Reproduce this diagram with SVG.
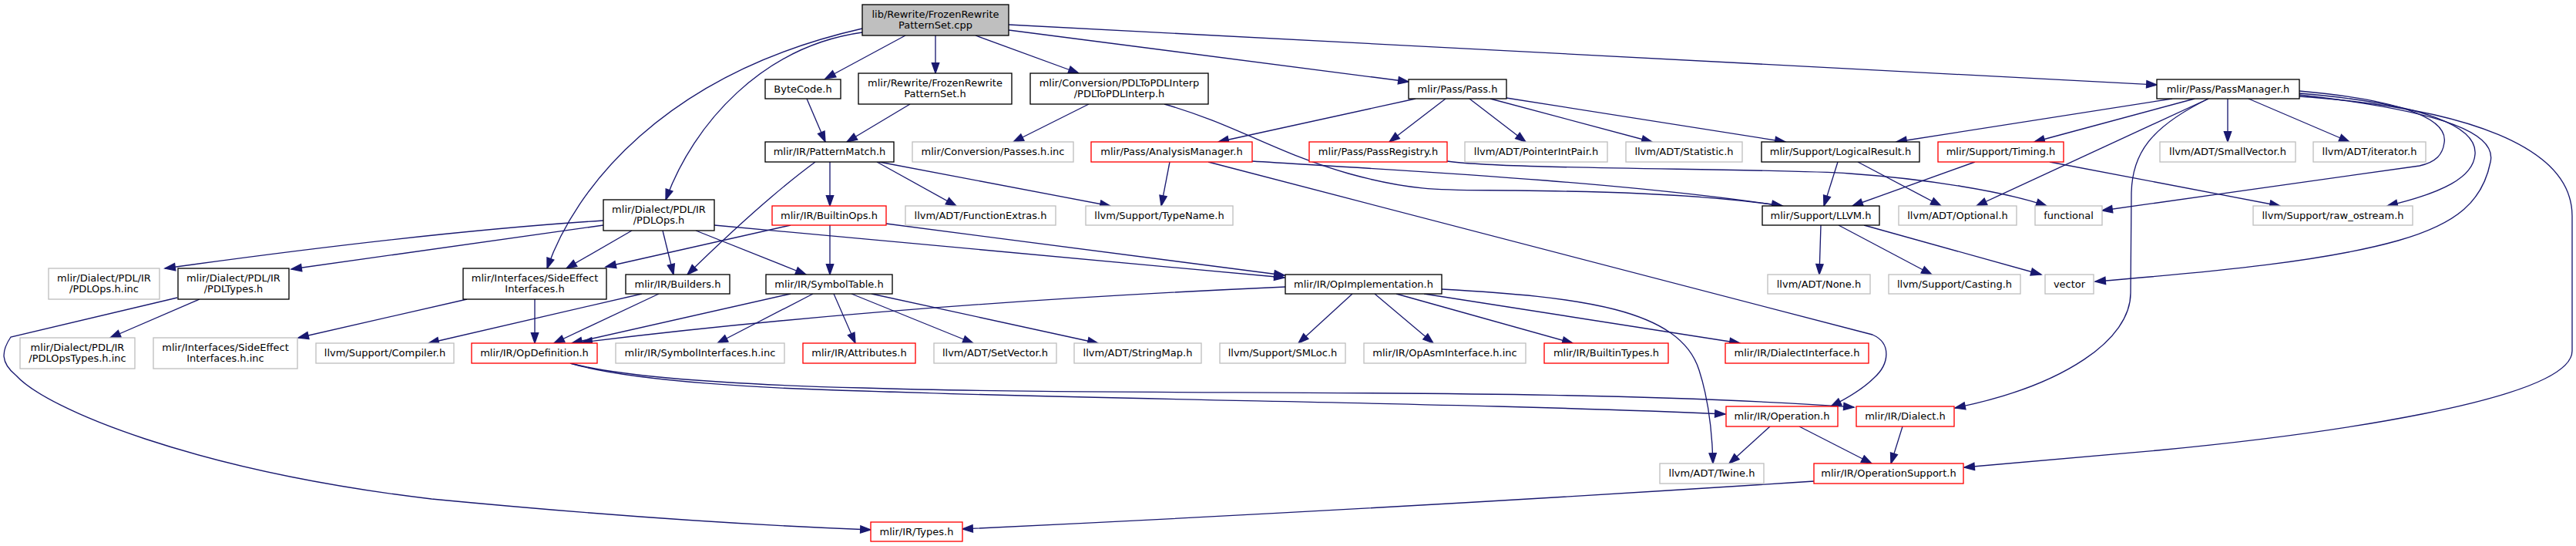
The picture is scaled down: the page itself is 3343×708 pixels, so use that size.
<svg xmlns="http://www.w3.org/2000/svg" width="3343" height="708" viewBox="0 0 3343 708">
<style>
.n rect{stroke-width:1.33;fill:#fff}
.k rect{stroke:#000}
.g rect{stroke:#bfbfbf}
.r rect{stroke:#ff0000}
.root rect{fill:#bfbfbf;stroke:#000}
text{font-family:"DejaVu Sans",sans-serif;font-size:13px;text-anchor:middle;fill:#000}
#edges path{fill:none;stroke:#191970;stroke-width:1.33;marker-end:url(#ah)}
</style>
<defs>
<marker id="ah" markerUnits="userSpaceOnUse" markerWidth="14" markerHeight="10" viewBox="0 0 14 10" refX="13.3" refY="4.67" orient="auto" overflow="visible">
<path d="M0,0 L13.3,4.67 L0,9.33 Z" fill="#191970" stroke="#191970" stroke-width="1.33"/>
</marker>
</defs>
<rect x="0" y="0" width="3343" height="708" fill="#fff"/>
<g id="edges">
<path d="M1175,46 L1071,102"/>
<path d="M1214,46 L1214,95"/>
<path d="M1266,46 L1400,95"/>
<path d="M1309,39 L1828,106"/>
<path d="M1309,32 L2799,110"/>
<path d="M1119,37 C859,96 745,247 710,348"/>
<path d="M1119,42 C990,60 900,160 864,259"/>
<path d="M1047,128 L1071,184"/>
<path d="M1181,135 L1099,184"/>
<path d="M1413,135 L1315,184"/>
<path d="M1511,135 C1600,160 1660,200 1750,225 S1880,246 1966,247 S2200,250 2313,267"/>
<path d="M1625,209 C1800,220 2100,235 2313,267"/>
<path d="M1837,128 L1581,184"/>
<path d="M1876,128 L1803,184"/>
<path d="M1907,128 L1980,184"/>
<path d="M1934,128 L2144,184"/>
<path d="M1955,127 L2317,184"/>
<path d="M2819,128 L2461,184"/>
<path d="M2848,128 L2640,184"/>
<path d="M2866,128 L2565,267"/>
<path d="M2866,128 C2790,165 2767,200 2766,250 L2765,380 C2765,440 2680,500 2537,529"/>
<path d="M2891,128 L2891,184"/>
<path d="M2918,128 L3049,184"/>
<path d="M2984,118 C3100,128 3178,150 3172,185 C3170,200 3162,210 3140,215 L2728,273"/>
<path d="M2984,121 C3150,135 3215,165 3212,200 C3210,230 3170,250 3098,267"/>
<path d="M2984,123 C3180,145 3240,175 3232,210 C3222,260 3190,290 3112,312 C3020,338 2880,352 2719,365"/>
<path d="M2984,125 C3200,140 3338,190 3338,280 L3338,455 C3338,520 3000,565 2800,584 L2549,606"/>
<path d="M1077,210 L1077,267"/>
<path d="M1138,210 L1241,267"/>
<path d="M1141,210 L1441,267"/>
<path d="M1058,210 Q990,260 892,356"/>
<path d="M1518,210 L1507,267"/>
<path d="M1568,210 L2430,434 C2455,445 2452,472 2432,490 C2418,504 2398,516 2376,527"/>
<path d="M1878,209 C1950,220 2300,218 2400,225 C2500,232 2600,248 2656,267"/>
<path d="M2385,210 L2367,267"/>
<path d="M2411,210 L2519,267"/>
<path d="M2563,210 L2404,267"/>
<path d="M2660,210 L2959,267"/>
<path d="M2363,292 L2361,356"/>
<path d="M2386,292 L2507,356"/>
<path d="M2419,292 L2649,356"/>
<path d="M783,286 Q560,300 214,348"/>
<path d="M783,292 L378,349"/>
<path d="M820,299 L735,348"/>
<path d="M860,299 L874,356"/>
<path d="M903,299 L1046,356"/>
<path d="M927,292 Q1200,318 1667,360"/>
<path d="M1026,292 L786,346"/>
<path d="M1077,292 L1077,356"/>
<path d="M1150,290 L1667,357"/>
<path d="M259,388 L143,438"/>
<path d="M230,386 L14,437 C2,455 0,470 21,487 C60,530 250,610 560,647 C800,670 1000,682 1130,687"/>
<path d="M606,388 L387,438"/>
<path d="M694,388 L694,445"/>
<path d="M833,381 L556,445"/>
<path d="M855,381 L719,445"/>
<path d="M1026,381 L742,445"/>
<path d="M1055,381 L931,445"/>
<path d="M1082,381 L1110,445"/>
<path d="M1105,381 L1263,445"/>
<path d="M1131,381 L1425,445"/>
<path d="M1668,372 Q1150,395 755,444"/>
<path d="M1755,381 L1685,445"/>
<path d="M1784,381 L1860,445"/>
<path d="M1812,381 L2041,445"/>
<path d="M1848,381 L2258,445"/>
<path d="M1871,375 C2050,385 2180,400 2205,480 C2218,520 2222,560 2223,601"/>
<path d="M740,471 C820,492 1000,500 1120,503 C1500,515 2000,500 2406,528"/>
<path d="M740,471 C820,495 1000,504 1120,507 C1500,520 1900,522 2239,537"/>
<path d="M2297,553 L2244,601"/>
<path d="M2335,553 L2429,601"/>
<path d="M2469,553 L2454,601"/>
<path d="M2354,624 Q1800,660 1249,686"/>
</g>
<g id="n_root" class="n root"><rect x="1119" y="6" width="190" height="40"/><text x="1214" y="22.5">lib/Rewrite/FrozenRewrite</text><text x="1214" y="37">PatternSet.cpp</text></g>
<g id="n_bytecode" class="n k"><rect x="993" y="103" width="98" height="25"/><text x="1042" y="120">ByteCode.h</text></g>
<g id="n_frps" class="n k"><rect x="1114" y="95" width="199" height="40"/><text x="1213.5" y="111.5">mlir/Rewrite/FrozenRewrite</text><text x="1213.5" y="126">PatternSet.h</text></g>
<g id="n_pdl2pdli" class="n k"><rect x="1337" y="95" width="231" height="40"/><text x="1452.5" y="111.5">mlir/Conversion/PDLToPDLInterp</text><text x="1452.5" y="126">/PDLToPDLInterp.h</text></g>
<g id="n_pass" class="n k"><rect x="1828" y="103" width="127" height="25"/><text x="1891.5" y="120">mlir/Pass/Pass.h</text></g>
<g id="n_passmgr" class="n k"><rect x="2799" y="103" width="185" height="25"/><text x="2891.5" y="120">mlir/Pass/PassManager.h</text></g>
<g id="n_patternmatch" class="n k"><rect x="993" y="184" width="167" height="26"/><text x="1076.5" y="201">mlir/IR/PatternMatch.h</text></g>
<g id="n_passesinc" class="n g"><rect x="1184" y="184" width="209" height="26"/><text x="1288.5" y="201">mlir/Conversion/Passes.h.inc</text></g>
<g id="n_analysis" class="n r"><rect x="1416" y="184" width="209" height="26"/><text x="1520.5" y="201">mlir/Pass/AnalysisManager.h</text></g>
<g id="n_passreg" class="n r"><rect x="1699" y="184" width="179" height="26"/><text x="1788.5" y="201">mlir/Pass/PassRegistry.h</text></g>
<g id="n_pointerint" class="n g"><rect x="1901" y="184" width="185" height="26"/><text x="1993.5" y="201">llvm/ADT/PointerIntPair.h</text></g>
<g id="n_statistic" class="n g"><rect x="2110" y="184" width="151" height="26"/><text x="2185.5" y="201">llvm/ADT/Statistic.h</text></g>
<g id="n_logical" class="n k"><rect x="2286" y="184" width="205" height="26"/><text x="2388.5" y="201">mlir/Support/LogicalResult.h</text></g>
<g id="n_timing" class="n r"><rect x="2515" y="184" width="163" height="26"/><text x="2596.5" y="201">mlir/Support/Timing.h</text></g>
<g id="n_smallvec" class="n g"><rect x="2803" y="184" width="176" height="26"/><text x="2891" y="201">llvm/ADT/SmallVector.h</text></g>
<g id="n_iterator" class="n g"><rect x="3002" y="184" width="146" height="26"/><text x="3075" y="201">llvm/ADT/iterator.h</text></g>
<g id="n_pdlops" class="n k"><rect x="783" y="259" width="144" height="40"/><text x="855" y="275.5">mlir/Dialect/PDL/IR</text><text x="855" y="290">/PDLOps.h</text></g>
<g id="n_builtinops" class="n r"><rect x="1002" y="267" width="148" height="25"/><text x="1076" y="284">mlir/IR/BuiltinOps.h</text></g>
<g id="n_funcextras" class="n g"><rect x="1175" y="267" width="195" height="25"/><text x="1272.5" y="284">llvm/ADT/FunctionExtras.h</text></g>
<g id="n_typename" class="n g"><rect x="1409" y="267" width="191" height="25"/><text x="1504.5" y="284">llvm/Support/TypeName.h</text></g>
<g id="n_llvmh" class="n k"><rect x="2287" y="267" width="152" height="25"/><text x="2363" y="284">mlir/Support/LLVM.h</text></g>
<g id="n_optional" class="n g"><rect x="2464" y="267" width="153" height="25"/><text x="2540.5" y="284">llvm/ADT/Optional.h</text></g>
<g id="n_functional" class="n g"><rect x="2641" y="267" width="87" height="25"/><text x="2684.5" y="284">functional</text></g>
<g id="n_rawostream" class="n g"><rect x="2924" y="267" width="207" height="25"/><text x="3027.5" y="284">llvm/Support/raw_ostream.h</text></g>
<g id="n_pdlopsinc" class="n g"><rect x="63" y="348" width="144" height="40"/><text x="135" y="364.5">mlir/Dialect/PDL/IR</text><text x="135" y="379">/PDLOps.h.inc</text></g>
<g id="n_pdltypes" class="n k"><rect x="231" y="348" width="144" height="40"/><text x="303" y="364.5">mlir/Dialect/PDL/IR</text><text x="303" y="379">/PDLTypes.h</text></g>
<g id="n_sideeffect" class="n k"><rect x="601" y="348" width="186" height="40"/><text x="694" y="364.5">mlir/Interfaces/SideEffect</text><text x="694" y="379">Interfaces.h</text></g>
<g id="n_builders" class="n k"><rect x="812" y="356" width="135" height="25"/><text x="879.5" y="373">mlir/IR/Builders.h</text></g>
<g id="n_symboltable" class="n k"><rect x="994" y="356" width="164" height="25"/><text x="1076" y="373">mlir/IR/SymbolTable.h</text></g>
<g id="n_opimpl" class="n k"><rect x="1668" y="356" width="203" height="25"/><text x="1769.5" y="373">mlir/IR/OpImplementation.h</text></g>
<g id="n_none" class="n g"><rect x="2294" y="356" width="133" height="25"/><text x="2360.5" y="373">llvm/ADT/None.h</text></g>
<g id="n_casting" class="n g"><rect x="2451" y="356" width="171" height="25"/><text x="2536.5" y="373">llvm/Support/Casting.h</text></g>
<g id="n_vector" class="n g"><rect x="2654" y="356" width="63" height="25"/><text x="2685.5" y="373">vector</text></g>
<g id="n_pdlopstypesinc" class="n g"><rect x="26" y="438" width="149" height="40"/><text x="100.5" y="454.5">mlir/Dialect/PDL/IR</text><text x="100.5" y="469">/PDLOpsTypes.h.inc</text></g>
<g id="n_sideeffectinc" class="n g"><rect x="199" y="438" width="187" height="40"/><text x="292.5" y="454.5">mlir/Interfaces/SideEffect</text><text x="292.5" y="469">Interfaces.h.inc</text></g>
<g id="n_compiler" class="n g"><rect x="410" y="445" width="179" height="26"/><text x="499.5" y="462">llvm/Support/Compiler.h</text></g>
<g id="n_opdef" class="n r"><rect x="612" y="445" width="163" height="26"/><text x="693.5" y="462">mlir/IR/OpDefinition.h</text></g>
<g id="n_symifinc" class="n g"><rect x="799" y="445" width="219" height="26"/><text x="908.5" y="462">mlir/IR/SymbolInterfaces.h.inc</text></g>
<g id="n_attributes" class="n r"><rect x="1042" y="445" width="146" height="26"/><text x="1115" y="462">mlir/IR/Attributes.h</text></g>
<g id="n_setvector" class="n g"><rect x="1212" y="445" width="159" height="26"/><text x="1291.5" y="462">llvm/ADT/SetVector.h</text></g>
<g id="n_stringmap" class="n g"><rect x="1394" y="445" width="165" height="26"/><text x="1476.5" y="462">llvm/ADT/StringMap.h</text></g>
<g id="n_smloc" class="n g"><rect x="1583" y="445" width="163" height="26"/><text x="1664.5" y="462">llvm/Support/SMLoc.h</text></g>
<g id="n_opasminc" class="n g"><rect x="1770" y="445" width="210" height="26"/><text x="1875" y="462">mlir/IR/OpAsmInterface.h.inc</text></g>
<g id="n_builtintypes" class="n r"><rect x="2004" y="445" width="161" height="26"/><text x="2084.5" y="462">mlir/IR/BuiltinTypes.h</text></g>
<g id="n_dialectif" class="n r"><rect x="2239" y="445" width="186" height="26"/><text x="2332" y="462">mlir/IR/DialectInterface.h</text></g>
<g id="n_operation" class="n r"><rect x="2240" y="527" width="145" height="26"/><text x="2312.5" y="544">mlir/IR/Operation.h</text></g>
<g id="n_dialect" class="n r"><rect x="2409" y="527" width="127" height="26"/><text x="2472.5" y="544">mlir/IR/Dialect.h</text></g>
<g id="n_twine" class="n g"><rect x="2154" y="601" width="135" height="26"/><text x="2221.5" y="618">llvm/ADT/Twine.h</text></g>
<g id="n_opsupport" class="n r"><rect x="2354" y="601" width="194" height="26"/><text x="2451" y="618">mlir/IR/OperationSupport.h</text></g>
<g id="n_types" class="n r"><rect x="1130" y="677" width="119" height="25"/><text x="1189.5" y="694">mlir/IR/Types.h</text></g>
</svg>
